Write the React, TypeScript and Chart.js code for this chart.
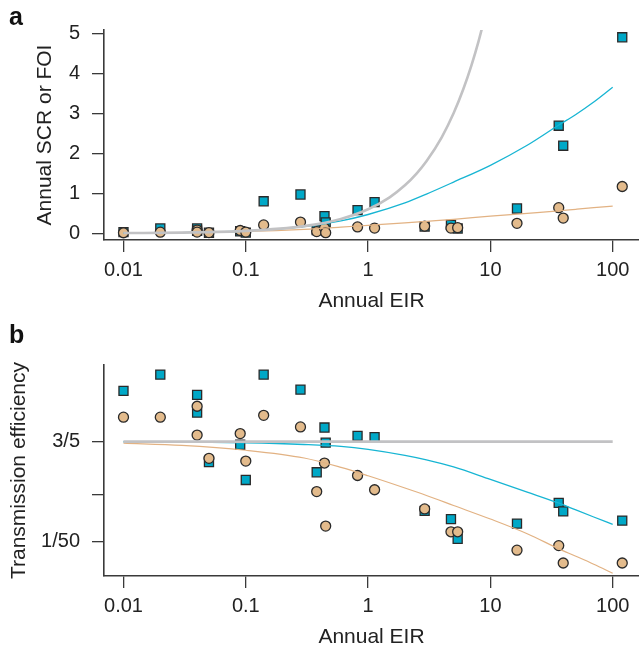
import React, { useEffect, useRef } from 'react';
import { Chart, registerables } from 'chart.js';

Chart.register(...registerables);

// ---- site data (annual EIR of each site) ----
const eir = [0.01, 0.02, 0.04, 0.04, 0.05, 0.09, 0.1, 0.14, 0.28, 0.38, 0.44, 0.45, 0.82, 1.13, 2.9, 4.76, 5.4, 16.5, 36.2, 39.4, 119.7];
// panel a: annual SCR (squares) and FOI (circles)
const scrA = [0.03, 0.12, 0.12, 0.065, 0.015, 0.05, 0.016, 0.8, 0.97, 0.08, 0.43, 0.27, 0.58, 0.78, 0.17, 0.21, 0.12, 0.62, 2.69, 2.19, 4.9];
const foiA = [0.014, 0.028, 0.08, 0.03, 0.017, 0.07, 0.031, 0.21, 0.28, 0.042, 0.13, 0.015, 0.16, 0.13, 0.18, 0.13, 0.14, 0.25, 0.64, 0.38, 1.17];
// panel b: transmission efficiency (squares and circles)
const scrEffB = [3.37, 5.86, 2.94, 1.61, 0.3, 0.54, 0.163, 5.86, 3.52, 0.212, 0.97, 0.58, 0.73, 0.7, 0.057, 0.043, 0.022, 0.037, 0.075, 0.056, 0.041];
const foiEffB = [1.38, 1.38, 2.0, 0.75, 0.34, 0.79, 0.31, 1.47, 0.99, 0.11, 0.29, 0.034, 0.19, 0.117, 0.061, 0.028, 0.028, 0.015, 0.0175, 0.0097, 0.0097];

// ---- fitted curves ----
const curveEir = [0.01, 0.03, 0.1, 0.3, 0.6, 1, 2, 3, 5, 10, 20, 36, 50, 70, 100];
const cyanA = [0.006, 0.018, 0.058, 0.165, 0.31, 0.47, 0.76, 0.98, 1.28, 1.7, 2.2, 2.7, 2.97, 3.28, 3.65];
const tanA = [0.006, 0.016, 0.045, 0.1, 0.155, 0.2, 0.26, 0.3, 0.35, 0.43, 0.5, 0.56, 0.6, 0.64, 0.68];
const cyanB = [0.598, 0.592, 0.578, 0.545, 0.51, 0.46, 0.375, 0.322, 0.254, 0.166, 0.108, 0.0746, 0.0588, 0.0463, 0.0361];
const tanB = [0.57, 0.53, 0.448, 0.344, 0.25, 0.188, 0.124, 0.0962, 0.0685, 0.0432, 0.0262, 0.0158, 0.0122, 0.0093, 0.00683];
const greyEirA = [0.01, 0.03, 0.1, 0.3, 0.6, 1, 1.5, 2, 2.5, 3, 4, 5, 6, 7, 8, 9];
const greyA = [0.006, 0.018, 0.06, 0.18, 0.36, 0.6, 0.9, 1.2, 1.5, 1.8, 2.4, 3.0, 3.6, 4.2, 4.8, 5.4];
const greyEirB = [0.01, 100];
const greyB = [0.6, 0.6];

// ---- ticks ----
const xTicks = [0.01, 0.1, 1, 10, 100];
const xTickLabels = ['0.01', '0.1', '1', '10', '100'];
const yTicksA = [0, 1, 2, 3, 4, 5];
const yTicksB = [0.02, 0.1, 0.6];
const yTickLabelsB = ['1/50', '', '3/5'];

const FONT = "'Liberation Sans', Arial, Helvetica, sans-serif";
const AXIS = '#3a3a3a';
const TEXT = '#222222';
const CYAN = '#00a8c7';
const TAN = '#e3bb8c';
const CYAN_LINE = '#17b5d3';
const TAN_LINE = '#e2b283';
const GREY_LINE = '#c2c2c4';

const pts = (xs: number[], ys: number[]) => xs.map((x, i) => ({ x, y: ys[i] }));

const lineDs = (xs: number[], ys: number[], color: string, width: number) => ({
  data: pts(xs, ys),
  showLine: true,
  pointRadius: 0,
  borderColor: color,
  borderWidth: width,
  cubicInterpolationMode: 'monotone',
  fill: false,
});

const squareDs = (ys: number[]) => ({
  data: pts(eir, ys),
  pointStyle: 'rect',
  pointRadius: 6.4,
  backgroundColor: CYAN,
  borderColor: '#2a2a2a',
  borderWidth: 1.3,
  clip: false,
});

const circleDs = (ys: number[]) => ({
  data: pts(eir, ys),
  pointStyle: 'circle',
  pointRadius: 5,
  backgroundColor: TAN,
  borderColor: '#2a2a2a',
  borderWidth: 1.3,
  clip: false,
});

const panelLabel = (text: string, x: number, y: number) => ({
  id: 'panelLabel_' + text,
  afterDraw(chart: any) {
    const ctx = chart.ctx;
    ctx.save();
    ctx.font = `bold 25px ${FONT}`;
    ctx.fillStyle = '#111';
    ctx.textBaseline = 'alphabetic';
    ctx.textAlign = 'left';
    ctx.fillText(text, x, y);
    ctx.restore();
  },
});

function xScale(canvasH: number, areaBottom: number, titlePadBottom: number) {
  return {
    type: 'logarithmic',
    position: 'bottom',
    bounds: 'data',
    min: 0.006929,
    max: 164.1,
    afterBuildTicks: (s: any) => {
      s.ticks = xTicks.map((v) => ({ value: v }));
    },
    afterFit: (s: any) => {
      s.height = canvasH - areaBottom;
      s.paddingLeft = 0;
      s.paddingRight = 0;
    },
    ticks: {
      autoSkip: false,
      maxRotation: 0,
      padding: 6,
      color: TEXT,
      font: { family: FONT, size: 20 },
      callback: (v: any) => {
        const i = xTicks.indexOf(Number(v));
        return i >= 0 ? xTickLabels[i] : '';
      },
    },
    grid: { display: true, drawOnChartArea: false, drawTicks: true, tickLength: 12, color: AXIS, lineWidth: 1.3 },
    border: { display: true, color: AXIS, width: 1.6 },
    title: {
      display: true,
      text: 'Annual EIR',
      color: TEXT,
      font: { family: FONT, size: 21 },
      padding: { top: 0, bottom: titlePadBottom },
    },
  };
}

function yGrid() {
  return { display: true, drawOnChartArea: false, drawTicks: true, tickLength: 12, color: AXIS, lineWidth: 1.3 };
}

function makeConfigA(): any {
  return {
    type: 'scatter',
    data: {
      datasets: [
        lineDs(greyEirA, greyA, GREY_LINE, 2.6),
        lineDs(curveEir, cyanA, CYAN_LINE, 1.3),
        lineDs(curveEir, tanA, TAN_LINE, 1.2),
        circleDs(foiA),
        squareDs(scrA),
      ],
    },
    options: {
      animation: false,
      responsive: false,
      maintainAspectRatio: false,
      events: [],
      layout: { autoPadding: false, padding: { top: 30, left: 0, right: 0, bottom: 0 } },
      plugins: { legend: { display: false }, tooltip: { enabled: false } },
      scales: {
        x: xScale(316, 240, 1.7),
        y: {
          type: 'linear',
          position: 'left',
          bounds: 'data',
          min: -0.1675,
          max: 5.0825,
          afterBuildTicks: (s: any) => {
            s.ticks = yTicksA.map((v) => ({ value: v }));
          },
          afterFit: (s: any) => {
            s.width = 104;
            s.paddingTop = 0;
            s.paddingBottom = 0;
          },
          ticks: {
            padding: 12,
            color: TEXT,
            font: { family: FONT, size: 20 },
            callback: (v: any) => String(v),
          },
          grid: yGrid(),
          border: { display: true, color: AXIS, width: 1.6 },
          title: {
            display: true,
            text: 'Annual SCR or FOI',
            color: TEXT,
            font: { family: FONT, size: 21 },
            padding: { top: 33, bottom: 0 },
          },
        },
      },
    },
    plugins: [panelLabel('a', 9, 25)],
  };
}

function makeConfigB(): any {
  return {
    type: 'scatter',
    data: {
      datasets: [
        lineDs(greyEirB, greyB, GREY_LINE, 2.6),
        lineDs(curveEir, cyanB, CYAN_LINE, 1.3),
        lineDs(curveEir, tanB, TAN_LINE, 1.2),
        circleDs(foiEffB),
        squareDs(scrEffB),
      ],
    },
    options: {
      animation: false,
      responsive: false,
      maintainAspectRatio: false,
      events: [],
      layout: { autoPadding: false, padding: { top: 49, left: 0, right: 0, bottom: 0 } },
      plugins: { legend: { display: false }, tooltip: { enabled: false } },
      scales: {
        x: xScale(334, 260, 0),
        y: {
          type: 'logarithmic',
          position: 'left',
          bounds: 'data',
          min: 0.00623,
          max: 8.13,
          afterBuildTicks: (s: any) => {
            s.ticks = yTicksB.map((v) => ({ value: v }));
          },
          afterFit: (s: any) => {
            s.width = 104;
            s.paddingTop = 0;
            s.paddingBottom = 0;
          },
          ticks: {
            padding: 12,
            color: TEXT,
            font: { family: FONT, size: 20 },
            callback: (v: any) => {
              const i = yTicksB.indexOf(Number(v));
              return i >= 0 ? yTickLabelsB[i] : '';
            },
          },
          grid: yGrid(),
          border: { display: true, color: AXIS, width: 1.6 },
          title: {
            display: true,
            text: 'Transmission efficiency',
            color: TEXT,
            font: { family: FONT, size: 21 },
            padding: { top: 7, bottom: 0 },
          },
        },
      },
    },
    plugins: [panelLabel('b', 9, 27)],
  };
}

export default function App() {
  const refA = useRef<HTMLCanvasElement>(null);
  const refB = useRef<HTMLCanvasElement>(null);

  useEffect(() => {
    if (!refA.current || !refB.current) return;
    const a = new Chart(refA.current, makeConfigA());
    const b = new Chart(refB.current, makeConfigB());
    return () => {
      a.destroy();
      b.destroy();
    };
  }, []);

  return (
    <div style={{ position: 'absolute', left: 0, top: 0, width: 639, height: 650, overflow: 'hidden', background: '#ffffff' }}>
      <canvas ref={refA} width={639} height={316} style={{ position: 'absolute', left: 0, top: 0, width: 639, height: 316 }} />
      <canvas ref={refB} width={639} height={334} style={{ position: 'absolute', left: 0, top: 316, width: 639, height: 334 }} />
    </div>
  );
}
